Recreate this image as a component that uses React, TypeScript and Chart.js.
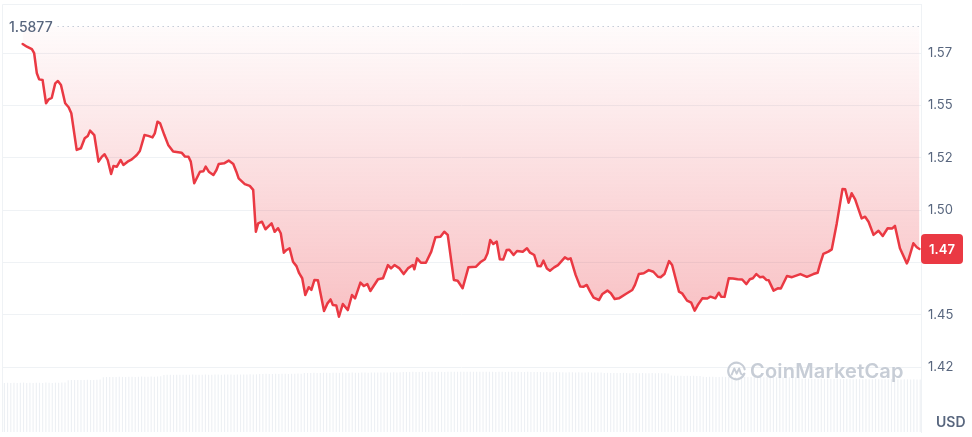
import React, { useEffect, useRef } from "react";
import { Chart, registerables } from "chart.js";

Chart.register(...registerables);

// ---- data ----
const hours = [
  0.54, 0.65, 0.78, 0.84, 0.91, 0.97, 1.06, 1.15, 1.22, 1.3, 1.39, 1.46, 1.54, 1.65, 1.74, 1.81, 1.95, 2.06, 2.16, 2.24,
  2.3, 2.41, 2.52, 2.61, 2.68, 2.76, 2.85, 2.91, 3.0, 3.1, 3.17, 3.28, 3.39, 3.52, 3.6, 3.72, 3.82, 3.93, 3.99, 4.06,
  4.13, 4.24, 4.34, 4.47, 4.69, 4.78, 4.87, 4.93, 5.02, 5.17, 5.26, 5.32, 5.4, 5.52, 5.6, 5.66, 5.8, 5.92, 6.04, 6.12,
  6.18, 6.34, 6.47, 6.56, 6.63, 6.69, 6.79, 6.88, 7.04, 7.12, 7.21, 7.28, 7.36, 7.43, 7.51, 7.6, 7.69, 7.76, 7.84, 7.92,
  8.01, 8.08, 8.16, 8.25, 8.41, 8.5, 8.58, 8.64, 8.73, 8.8, 8.9, 9.03, 9.14, 9.22, 9.36, 9.45, 9.54, 9.62, 9.82, 9.95,
  10.08, 10.16, 10.25, 10.38, 10.49, 10.6, 10.73, 10.77, 10.84, 10.94, 11.07, 11.21, 11.32, 11.45, 11.55, 11.64, 11.8, 11.9, 12.03, 12.18,
  12.38, 12.51, 12.61, 12.68, 12.75, 12.83, 12.92, 13.0, 13.09, 13.18, 13.25, 13.36, 13.45, 13.6, 13.71, 13.79, 13.9, 13.99, 14.07, 14.14,
  14.23, 14.31, 14.42, 14.52, 14.7, 14.78, 14.85, 14.98, 15.1, 15.18, 15.27, 15.36, 15.45, 15.59, 15.68, 15.81, 15.9, 16.0, 16.11, 16.29,
  16.46, 16.53, 16.63, 16.76, 16.89, 17.01, 17.13, 17.2, 17.3, 17.42, 17.5, 17.68, 17.76, 17.89, 18.0, 18.09, 18.17, 18.29, 18.42, 18.5,
  18.63, 18.72, 18.78, 18.87, 18.98, 19.09, 19.21, 19.33, 19.44, 19.53, 19.61, 19.7, 19.79, 19.88, 19.96, 20.02, 20.15, 20.26, 20.34, 20.5,
  20.63, 20.85, 21.02, 21.19, 21.3, 21.37, 21.45, 21.58, 21.67, 21.8, 21.95, 22.02, 22.11, 22.19, 22.28, 22.45, 22.54, 22.63, 22.76, 22.89,
  23.0, 23.13, 23.25, 23.32, 23.45, 23.63, 23.67, 23.8, 23.89, 23.96,
];

const prices = [
  1.5793, 1.578, 1.5768, 1.5749, 1.5653, 1.5624, 1.5621, 1.551, 1.5529, 1.5536, 1.5605, 1.5616, 1.5597, 1.551, 1.5491, 1.5462, 1.5287, 1.5295, 1.5343, 1.5354,
  1.5379, 1.5358, 1.5231, 1.5255, 1.5266, 1.5239, 1.5172, 1.521, 1.5207, 1.5239, 1.5215, 1.5231, 1.5242, 1.5263, 1.5282, 1.5358, 1.5354, 1.5347, 1.5366, 1.5422,
  1.5414, 1.5358, 1.5311, 1.5279, 1.5274, 1.5255, 1.5254, 1.5231, 1.5128, 1.5183, 1.5185, 1.5207, 1.5183, 1.5167, 1.5191, 1.522, 1.5223, 1.5236, 1.522, 1.5183,
  1.5151, 1.5124, 1.5115, 1.5096, 1.4896, 1.4936, 1.4944, 1.4908, 1.4936, 1.4896, 1.4913, 1.4889, 1.4796, 1.4809, 1.4817, 1.4753, 1.4732, 1.4698, 1.4674, 1.4594,
  1.4631, 1.4618, 1.4666, 1.4664, 1.4518, 1.4554, 1.4573, 1.4546, 1.4544, 1.449, 1.4551, 1.4522, 1.4594, 1.4578, 1.4653, 1.4637, 1.4646, 1.4613, 1.4669, 1.4674,
  1.4737, 1.4721, 1.4737, 1.4721, 1.4694, 1.4721, 1.4737, 1.4717, 1.4769, 1.4748, 1.4748, 1.4801, 1.487, 1.4872, 1.4896, 1.4881, 1.4666, 1.4662, 1.4626, 1.4726,
  1.4729, 1.4753, 1.4765, 1.4793, 1.4857, 1.4838, 1.4849, 1.4765, 1.4763, 1.4809, 1.481, 1.4785, 1.4804, 1.4801, 1.4817, 1.4796, 1.4785, 1.4732, 1.4731, 1.4758,
  1.4721, 1.471, 1.4726, 1.4737, 1.4774, 1.4765, 1.4769, 1.469, 1.4634, 1.4633, 1.4642, 1.461, 1.4581, 1.457, 1.4599, 1.4615, 1.4602, 1.4575, 1.4578, 1.4599,
  1.4618, 1.4642, 1.4694, 1.4698, 1.4713, 1.4705, 1.4681, 1.4679, 1.4694, 1.4756, 1.4737, 1.461, 1.4602, 1.4567, 1.4557, 1.4519, 1.4546, 1.4578, 1.4577, 1.4586,
  1.4578, 1.4605, 1.4586, 1.4585, 1.4674, 1.4673, 1.4669, 1.4668, 1.4646, 1.4669, 1.4674, 1.4694, 1.4679, 1.4681, 1.4666, 1.4665, 1.4615, 1.4626, 1.4625, 1.4685,
  1.4679, 1.4694, 1.4681, 1.4694, 1.47, 1.4745, 1.479, 1.4801, 1.4812, 1.4936, 1.51, 1.5099, 1.5035, 1.508, 1.5051, 1.496, 1.4968, 1.4944, 1.4881, 1.4901,
  1.4876, 1.4913, 1.4912, 1.4924, 1.4817, 1.4745, 1.4761, 1.4841, 1.4822, 1.4814,
];

const volumes = [
  4.58, 4.6, 4.57, 4.61, 4.59, 4.6, 4.62, 4.58, 4.6, 4.59, 4.61, 4.6, 4.58, 4.62, 4.6, 4.59, 4.61, 4.6, 4.62, 4.63, 4.84, 4.86, 4.85, 4.87,
  4.85, 4.86, 4.88, 4.86, 4.87, 4.88, 4.9, 5.12, 5.14, 5.13, 5.15, 5.14, 5.16, 5.15, 5.14, 5.16, 5.17, 5.15, 5.16, 5.18, 5.17, 5.16, 5.18, 5.17,
  5.18, 5.2, 5.33, 5.34, 5.35, 5.34, 5.36, 5.35, 5.34, 5.36, 5.35, 5.37, 5.36, 5.35, 5.36, 5.37, 5.35, 5.36, 5.38, 5.37, 5.36, 5.37, 5.38, 5.37,
  5.36, 5.38, 5.37, 5.38, 5.37, 5.39, 5.38, 5.39, 5.43, 5.42, 5.44, 5.43, 5.42, 5.44, 5.43, 5.45, 5.44, 5.43, 5.45, 5.44, 5.46, 5.45, 5.52, 5.51,
  5.52, 5.53, 5.51, 5.52, 5.54, 5.53, 5.52, 5.54, 5.53, 5.52, 5.55, 5.54, 5.53, 5.55, 5.54, 5.53, 5.55, 5.56, 5.54, 5.55, 5.56, 5.55, 5.57, 5.56,
  5.57, 5.56, 5.58, 5.57, 5.59, 5.6, 5.61, 5.6, 5.62, 5.61, 5.6, 5.62, 5.61, 5.63, 5.62, 5.61, 5.63, 5.62, 5.61, 5.63, 5.62, 5.64, 5.63, 5.62,
  5.63, 5.62, 5.64, 5.63, 5.62, 5.64, 5.63, 5.62, 5.64, 5.63, 5.61, 5.63, 5.62, 5.61, 5.62, 5.63, 5.61, 5.62, 5.6, 5.61, 5.62, 5.6, 5.61, 5.6,
  5.61, 5.59, 5.6, 5.58, 5.59, 5.6, 5.58, 5.59, 5.57, 5.58, 5.59, 5.57, 5.58, 5.56, 5.57, 5.58, 5.56, 5.57, 5.55, 5.56, 5.52, 5.53, 5.51, 5.52,
  5.52, 5.51, 5.53, 5.52, 5.5, 5.51, 5.52, 5.5, 5.51, 5.49, 5.5, 5.51, 5.49, 5.5, 5.48, 5.49, 5.47, 5.27, 5.26, 5.25, 5.26, 5.24, 5.25, 5.24,
  5.25, 5.23, 5.24, 5.16, 5.15, 5.17, 5.16, 5.15, 5.14, 5.16, 5.15, 5.14, 5.16, 5.15, 5.13, 5.14, 5.15, 5.13, 5.14, 5.12, 5.13, 5.14, 5.12, 5.13,
  5.12, 5.13, 5.11, 5.12, 5.1, 5.11, 5.12, 5.1, 5.11, 5.09, 4.98, 4.97, 4.99, 4.98, 4.96, 4.97, 4.98, 4.96, 4.97, 4.95, 4.96, 4.97, 4.95, 4.96,
  4.95, 4.96, 4.94, 4.95, 4.96, 4.94, 4.95, 4.93, 4.94, 4.95, 4.93, 4.94, 4.92, 4.93, 4.94, 4.92, 4.93, 4.91, 4.92, 4.93, 4.91, 4.92, 4.9, 4.91,
];

const tickValues = [1.425, 1.45, 1.475, 1.5, 1.525, 1.55, 1.575];
const tickLabels = ["1.42", "1.45", "1.47", "1.50", "1.52", "1.55", "1.57"];
const periodHigh = 1.5877;
const periodHighLabel = "1.5877";
const currentPriceLabel = "1.47";
const currencyLabel = "USD";
const watermarkText = "CoinMarketCap";

const axisMin = 1.39395;
const axisMax = 1.59841;
const volumeAxisMax = 40;

const RED = "#ea3943";
const GRID = "#eff2f5";
const LABEL = "#58667e";
const FONT = "Inter, 'Noto Sans', sans-serif";
const BADGE_H = 30;

const overlayPlugin = {
  id: "cmcOverlay",
  beforeDatasetsDraw(chart: any) {
    const { ctx, chartArea } = chart;
    ctx.save();
    ctx.strokeStyle = GRID;
    ctx.lineWidth = 1;
    ctx.beginPath();
    ctx.moveTo(chartArea.left + 0.5, chartArea.bottom);
    ctx.lineTo(chartArea.left + 0.5, chartArea.top + 0.5);
    ctx.lineTo(chartArea.right, chartArea.top + 0.5);
    ctx.stroke();
    ctx.restore();
  },
  afterDatasetsDraw(chart: any) {
    const { ctx, chartArea, scales } = chart;
    const yScale = scales.y;
    const hy = Math.round(yScale.getPixelForValue(periodHigh)) + 0.5;
    ctx.save();
    ctx.font = `500 14px ${FONT}`;
    const lw = ctx.measureText(periodHighLabel).width;
    const lx = chartArea.left + 7;
    // dotted reference line for the period high
    ctx.strokeStyle = "#a6b0c3";
    ctx.lineWidth = 1;
    ctx.setLineDash([1, 4]);
    ctx.beginPath();
    ctx.moveTo(lx + lw + 5, hy);
    ctx.lineTo(chartArea.right, hy);
    ctx.stroke();
    ctx.setLineDash([]);
    ctx.fillStyle = LABEL;
    ctx.textBaseline = "middle";
    ctx.textAlign = "left";
    ctx.fillText(periodHighLabel, lx, hy + 1);

    // current price badge
    const last = prices[prices.length - 1];
    const by = yScale.getPixelForValue(last);
    const bx = chartArea.right;
    const bw = 42;
    ctx.fillStyle = RED;
    ctx.beginPath();
    (ctx as any).roundRect(bx, by - BADGE_H / 2, bw, BADGE_H, 4);
    ctx.fill();
    ctx.fillStyle = "#ffffff";
    ctx.font = `600 13px ${FONT}`;
    ctx.textAlign = "center";
    ctx.fillText(currentPriceLabel, bx + bw / 2, by + 1);
    ctx.restore();
  },
};

export default function App() {
  const canvasRef = useRef<HTMLCanvasElement | null>(null);

  useEffect(() => {
    if (!canvasRef.current) return;
    const points = hours.map((h, i) => ({ x: h, y: prices[i] }));
    const chart = new Chart(canvasRef.current, {
      type: "line",
      data: {
        labels: volumes.map((_, i) => String(i)),
        datasets: [
          {
            type: "line",
            data: points as any,
            xAxisID: "x",
            yAxisID: "y",
            borderColor: RED,
            borderWidth: 2.5,
            borderJoinStyle: "round",
            borderCapStyle: "round",
            pointRadius: 0,
            tension: 0,
            fill: { value: periodHigh } as any,
            backgroundColor: (c: any) => {
              const ch = c.chart;
              if (!ch.chartArea) return "rgba(234,57,67,0.1)";
              const y0 = ch.scales.y.getPixelForValue(periodHigh);
              const y1 = ch.scales.y.getPixelForValue(1.445);
              const g = ch.ctx.createLinearGradient(0, y0, 0, y1);
              g.addColorStop(0, "rgba(234,57,67,0.02)");
              g.addColorStop(1, "rgba(234,57,67,0.32)");
              return g;
            },
            order: 0,
          } as any,
          {
            type: "bar",
            data: volumes,
            xAxisID: "xv",
            yAxisID: "yv",
            backgroundColor: "#edf0f4",
            barPercentage: 0.7,
            categoryPercentage: 1,
            order: 2,
          } as any,
        ],
      },
      options: {
        animation: false,
        responsive: true,
        maintainAspectRatio: false,
        events: [],
        layout: { padding: { left: 2, top: 4, right: 0, bottom: 5 } },
        plugins: { legend: { display: false }, tooltip: { enabled: false } },
        scales: {
          x: { type: "linear", min: 0, max: 24, display: false },
          xv: { type: "category", display: false, offset: true },
          y: {
            type: "linear",
            position: "right",
            min: axisMin,
            max: axisMax,
            afterBuildTicks: (scale: any) => {
              scale.ticks = tickValues.map((v) => ({ value: v }));
            },
            afterFit: (scale: any) => {
              scale.width = 51;
              scale.paddingTop = 0;
              scale.paddingBottom = 0;
            },
            grid: { color: GRID, drawTicks: false },
            border: { color: GRID },
            ticks: {
              padding: 7,
              color: (c: any) => {
                const s = c.chart.scales.y;
                if (!s || c.tick == null) return LABEL;
                const d = Math.abs(s.getPixelForValue(c.tick.value) - s.getPixelForValue(prices[prices.length - 1]));
                return d < BADGE_H / 2 + 6 ? "rgba(0,0,0,0)" : LABEL;
              },
              font: { size: 13, family: FONT },
              callback: (value: any) => {
                const i = tickValues.indexOf(Number(value));
                return i >= 0 ? tickLabels[i] : "";
              },
            },
          },
          yv: { type: "linear", display: false, min: 0, max: volumeAxisMax },
        },
      } as any,
      plugins: [overlayPlugin as any],
    });
    return () => chart.destroy();
  }, []);

  return (
    <div style={{ position: "fixed", left: 0, top: 0, width: 972, height: 437, background: "#fff", fontFamily: FONT }}>
      <canvas ref={canvasRef} />
      <div style={{ position: "absolute", left: 726, top: 360, display: "flex", alignItems: "center", pointerEvents: "none" }}>
        <svg width="21" height="21" viewBox="0 0 24 24" style={{ marginRight: 3 }}>
          <path d="M21 14.5 A9.5 9.5 0 1 1 21.3 9.5" fill="none" stroke="#c7cdd6" strokeWidth="2.4" strokeLinecap="round" />
          <path d="M6.5 15.5 L9.5 8.5 L12.2 14.5 L15 8.5 L17 14.5 Q18 16.5 20.5 14.8" fill="none" stroke="#c7cdd6" strokeWidth="2.2" strokeLinejoin="round" strokeLinecap="round" />
        </svg>
        <span style={{ fontSize: 20, fontWeight: 600, color: "#c7cdd6", lineHeight: "22px", letterSpacing: 0.2 }}>{watermarkText}</span>
      </div>
      <div style={{ position: "absolute", left: 936, top: 413, fontSize: 14, fontWeight: 600, color: LABEL, lineHeight: "18px" }}>
        {currencyLabel}
      </div>
    </div>
  );
}
